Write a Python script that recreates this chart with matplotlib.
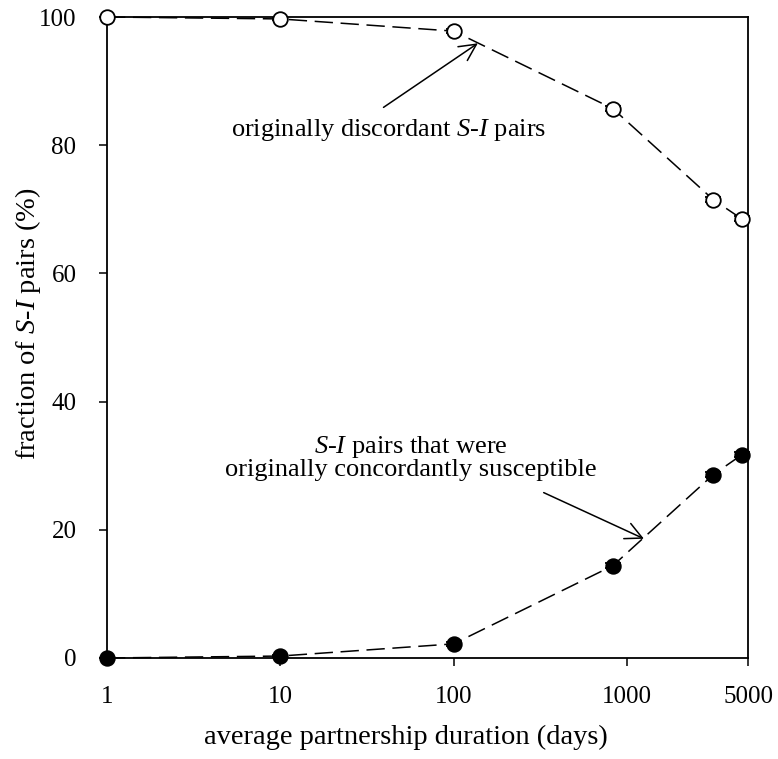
import numpy as np
import matplotlib
matplotlib.use("Agg")
import matplotlib.pyplot as plt

plt.rcParams["font.family"] = ["Liberation Serif", "DejaVu Serif"]
plt.rcParams["mathtext.fontset"] = "custom"
plt.rcParams["mathtext.rm"] = "Liberation Serif"
plt.rcParams["mathtext.it"] = "Liberation Serif:italic"

# data
duration = [1, 10, 100, 830, 3150, 4600]
discordant = [100.0, 99.7, 97.8, 85.7, 71.5, 68.5]
concordant = [0.0, 0.3, 2.2, 14.4, 28.6, 31.7]
err = [0.0, 0.2, 0.3, 0.4, 0.4, 0.4]

xticks = [1, 10, 100, 1000, 5000]
xtick_labels = ["1", "10", "100", "1000", "5000"]
yticks = [0, 20, 40, 60, 80, 100]

fig = plt.figure(figsize=(7.78, 7.59), dpi=100)
ax = fig.add_axes([0.1375, 0.1331, 0.824, 0.8445])

line_kw = dict(color="black", linestyle=(0, (12, 5)), linewidth=1.1,
               markersize=10.5, markeredgewidth=1.3, capsize=6,
               elinewidth=1.0, ecolor="black", clip_on=False, zorder=3)
ax.errorbar(duration, discordant, yerr=err, marker="o",
            markerfacecolor="white", markeredgecolor="black", **line_kw)
ax.errorbar(duration, concordant, yerr=err, marker="o",
            markerfacecolor="black", markeredgecolor="black", **line_kw)

ax.set_xscale("log")
ax.set_xlim(1, 5000)
ax.set_ylim(0, 100)
ax.set_xticks(xticks)
ax.set_xticklabels(xtick_labels)
ax.minorticks_off()
ax.set_yticks(yticks)
ax.tick_params(axis="both", direction="out", length=6, width=1.1,
               labelsize=18, top=False, right=False)
ax.tick_params(axis="x", pad=14)
ax.tick_params(axis="y", pad=16)
for s in ax.spines.values():
    s.set_linewidth(1.3)

ax.set_xlabel("average partnership duration (days)", fontsize=20.5)
ax.xaxis.set_label_coords(0.466, -0.105)
ax.set_ylabel("fraction of $S$-$I$ pairs (%)", fontsize=20.5)
ax.yaxis.set_label_coords(-0.1, 0.521)

arrow = dict(arrowstyle="->", color="black", lw=1.1, mutation_scale=30,
             shrinkA=0, shrinkB=0)
ax.annotate("", xy=(138, 95.9), xytext=(39.4, 85.9), arrowprops=arrow)
ax.text(42, 82.3, "originally discordant $S$-$I$ pairs", fontsize=19,
        ha="center", va="center")

ax.annotate("", xy=(1254, 18.6), xytext=(331, 25.8), arrowprops=arrow)
ax.text(57, 31.3, "$S$-$I$ pairs that were\noriginally concordantly susceptible",
        fontsize=19, ha="center", va="center", linespacing=0.95)

fig.savefig("out.png", dpi=100)
